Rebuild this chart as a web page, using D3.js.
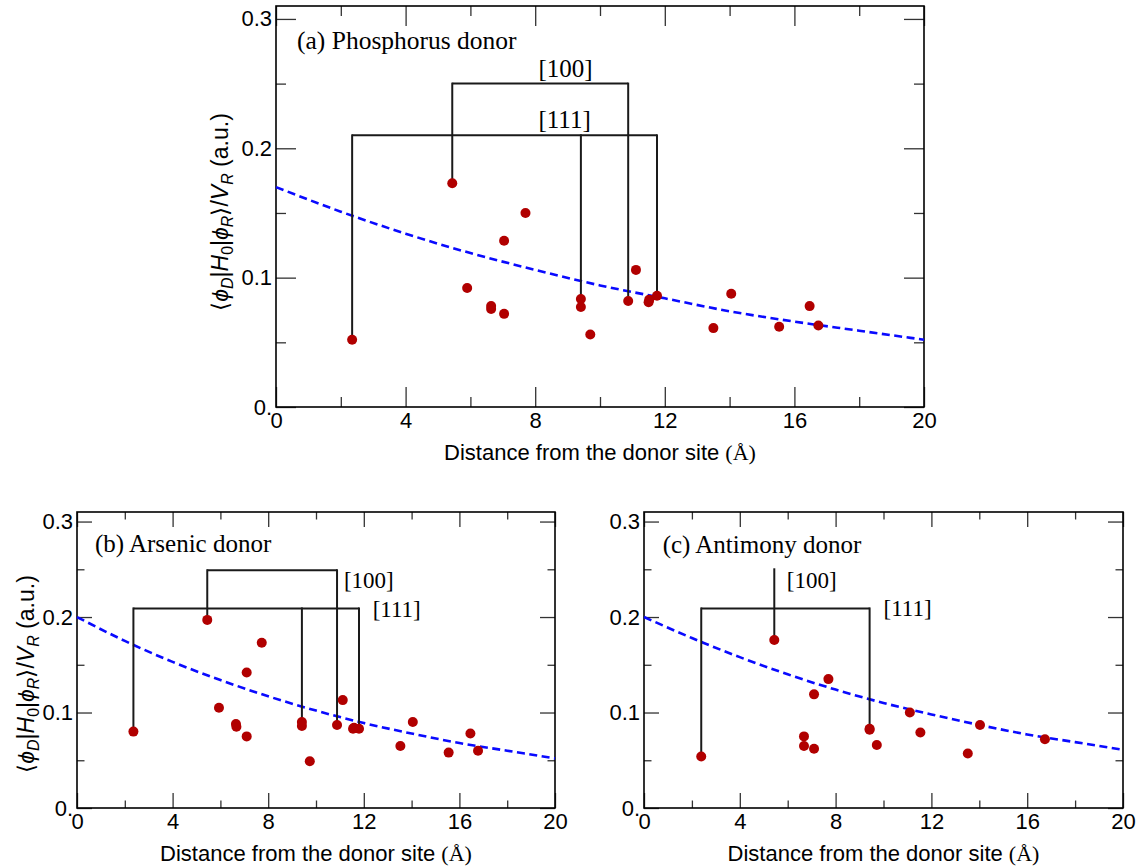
<!DOCTYPE html>
<html>
<head>
<meta charset="utf-8">
<script src="https://cdn.jsdelivr.net/npm/d3@7"></script>
<style>
  body { margin: 0; background: #fff; }
  svg { display: block; }
</style>
</head>
<body>
<div id="chart"></div>
<script>
// distances (Å) and couplings
const aDist = [2.35, 5.44, 5.90, 6.64, 6.64, 7.04, 7.04, 7.70, 9.41, 9.41, 9.70, 10.87, 11.11, 11.50, 11.52, 11.76, 13.50, 14.05, 15.53, 16.47, 16.74];
const aCoup = [0.052, 0.173, 0.092, 0.078, 0.0757, 0.1285, 0.072, 0.150, 0.0835, 0.0773, 0.056, 0.082, 0.106, 0.081, 0.083, 0.086, 0.061, 0.0876, 0.062, 0.078, 0.063];

const bDist = [2.36, 5.45, 5.94, 6.65, 6.67, 7.10, 7.10, 7.73, 9.41, 9.41, 9.74, 10.88, 11.12, 11.55, 11.59, 11.80, 13.53, 14.05, 15.55, 16.46, 16.78];
const bCoup = [0.080, 0.197, 0.105, 0.088, 0.085, 0.142, 0.075, 0.173, 0.090, 0.086, 0.049, 0.087, 0.113, 0.083, 0.084, 0.083, 0.065, 0.090, 0.058, 0.078, 0.060];

const cDist = [2.39, 5.44, 6.68, 6.68, 7.10, 7.10, 7.70, 9.42, 9.42, 9.72, 11.10, 11.54, 13.52, 14.03, 16.74];
const cCoup = [0.054, 0.176, 0.075, 0.065, 0.119, 0.062, 0.135, 0.083, 0.082, 0.066, 0.100, 0.079, 0.057, 0.087, 0.072];

// dashed fit curves, read at every 2 Å
const fitX = [0, 2, 4, 6, 8, 10, 12, 14, 16, 18, 20];
const aFit = [0.170, 0.151, 0.134, 0.119, 0.106, 0.094, 0.084, 0.074, 0.066, 0.059, 0.052];
const bFit = [0.200, 0.175, 0.153, 0.134, 0.117, 0.102, 0.089, 0.078, 0.068, 0.060, 0.052];
const cFit = [0.200, 0.178, 0.158, 0.140, 0.124, 0.110, 0.098, 0.087, 0.077, 0.069, 0.061];

// brackets: level of the bar, then [distance, coupling] of the points it joins
const a100 = { level: 0.25, ends: [[5.44, 0.173], [10.87, 0.082]] };
const a111 = { level: 0.21, ends: [[2.35, 0.052], [9.41, 0.0773], [11.76, 0.086]] };
const b100 = { level: 0.249, ends: [[5.45, 0.197], [10.88, 0.087]] };
const b111 = { level: 0.209, ends: [[2.36, 0.080], [9.41, 0.086], [11.80, 0.083]] };
const c100 = { level: 0.25, ends: [[5.44, 0.176]] };
const c111 = { level: 0.209, ends: [[2.39, 0.054], [9.42, 0.082]] };

const xMajor = [0, 4, 8, 12, 16, 20];
const xMinor = [2, 6, 10, 14, 18];
const yMajor = [0, 0.1, 0.2, 0.3];
const yMinor = [0.05, 0.15, 0.25];

const panels = [
  { title: "(a) Phosphorus donor", dist: aDist, coup: aCoup, fit: aFit,
    brackets: [[a100, "[100]", 8.1, 0.255], [a111, "[111]", 8.1, 0.2155]],
    box: [276, 924, 6, 407], major: 20, minor: 10, titleSize: 25.5, tagSize: 25,
    titlePos: [0.65, 0.277], yLabel: [228, 212] },
  { title: "(b) Arsenic donor", dist: bDist, coup: bCoup, fit: bFit,
    brackets: [[b100, "[100]", 11.17, 0.230], [b111, "[111]", 12.37, 0.200]],
    box: [77, 555, 512, 808], major: 15, minor: 7.5, titleSize: 25, tagSize: 23,
    titlePos: [0.75, 0.268], yLabel: [34, 674] },
  { title: "(c) Antimony donor", dist: cDist, coup: cCoup, fit: cFit,
    brackets: [[c100, "[100]", 5.96, 0.230], [c111, "[111]", 10.0, 0.201]],
    box: [644, 1123, 512, 808], major: 15, minor: 7.5, titleSize: 25, tagSize: 23,
    titlePos: [0.78, 0.267], yLabel: null }
];

const svg = d3.select("#chart").append("svg")
  .attr("width", 1148)
  .attr("height", 867);

const sans = "'Liberation Sans', Arial, Helvetica, sans-serif";
const serif = "'Liberation Serif', 'Times New Roman', serif";

panels.forEach(p => {
  const [x0, x1, y0, y1] = p.box;
  const x = d3.scaleLinear().domain([0, 20]).range([x0, x1]);
  const y = d3.scaleLinear().domain([0, 0.31]).range([y1, y0]);
  const g = svg.append("g");

  // ticks on all four sides, pointing inward
  const addAxis = (axis, tr, labels) => {
    const ax = g.append("g").attr("transform", tr).call(axis);
    ax.select(".domain").remove();
    ax.selectAll(".tick line").attr("stroke", "#333").attr("stroke-width", 1.3);
    ax.selectAll("text").attr("font-family", sans).attr("font-size", 22).attr("fill", "#000");
    if (!labels) ax.selectAll("text").remove();
  };
  const yFmt = d => d === 0 ? "0." : d3.format(".1f")(d);

  addAxis(d3.axisBottom(x).tickValues(xMajor).tickSize(-p.major).tickPadding(5).tickFormat(d3.format("d")), `translate(0,${y1})`, true);
  addAxis(d3.axisBottom(x).tickValues(xMinor).tickSize(-p.minor), `translate(0,${y1})`, false);
  addAxis(d3.axisTop(x).tickValues(xMajor).tickSize(-p.major), `translate(0,${y0})`, false);
  addAxis(d3.axisTop(x).tickValues(xMinor).tickSize(-p.minor), `translate(0,${y0})`, false);
  addAxis(d3.axisLeft(y).tickValues(yMajor).tickSize(-p.major).tickPadding(4).tickFormat(yFmt), `translate(${x0},0)`, true);
  addAxis(d3.axisLeft(y).tickValues(yMinor).tickSize(-p.minor), `translate(${x0},0)`, false);
  addAxis(d3.axisRight(y).tickValues(yMajor).tickSize(-p.major), `translate(${x1},0)`, false);
  addAxis(d3.axisRight(y).tickValues(yMinor).tickSize(-p.minor), `translate(${x1},0)`, false);

  g.append("rect")
    .attr("x", x0).attr("y", y0)
    .attr("width", x1 - x0).attr("height", y1 - y0)
    .attr("fill", "none").attr("stroke", "#000").attr("stroke-width", 1.6);

  // fit curve
  const line = d3.line().x((d, i) => x(fitX[i])).y(d => y(d)).curve(d3.curveMonotoneX);
  g.append("path")
    .datum(p.fit)
    .attr("d", line)
    .attr("fill", "none")
    .attr("stroke", "#0a0aff")
    .attr("stroke-width", 2.6)
    .attr("stroke-dasharray", "8,4.5");

  // brackets
  p.brackets.forEach(([br, tag, tx, ty]) => {
    const xs = br.ends.map(e => e[0]);
    g.append("line")
      .attr("x1", x(d3.min(xs))).attr("x2", x(d3.max(xs)))
      .attr("y1", y(br.level)).attr("y2", y(br.level))
      .attr("stroke", "#1a1a1a").attr("stroke-width", 2);
    g.selectAll(null).data(br.ends).enter().append("line")
      .attr("x1", d => x(d[0])).attr("x2", d => x(d[0]))
      .attr("y1", y(br.level) - 1).attr("y2", d => y(d[1]))
      .attr("stroke", "#1a1a1a").attr("stroke-width", 2);
    g.append("text")
      .attr("x", x(tx)).attr("y", y(ty))
      .attr("font-family", serif).attr("font-size", p.tagSize)
      .text(tag);
  });

  // points
  g.selectAll("circle").data(p.dist).enter().append("circle")
    .attr("cx", d => x(d))
    .attr("cy", (d, i) => y(p.coup[i]))
    .attr("r", 5)
    .attr("fill", "#b10000");

  g.append("text")
    .attr("x", x(p.titlePos[0])).attr("y", y(p.titlePos[1]))
    .attr("font-family", serif).attr("font-size", p.titleSize)
    .text(p.title);

  // x label
  const xl = g.append("text")
    .attr("x", (x0 + x1) / 2).attr("y", y1 + 53)
    .attr("text-anchor", "middle")
    .attr("font-family", sans).attr("font-size", 22);
  xl.append("tspan").text("Distance from the donor site ");
  xl.append("tspan").attr("font-family", serif).text("(Å)");

  // y label
  if (p.yLabel) {
    const yl = g.append("text")
      .attr("transform", `translate(${p.yLabel[0]},${p.yLabel[1]}) rotate(-90)`)
      .attr("text-anchor", "middle")
      .attr("font-family", sans).attr("font-size", 23);
    const parts = [
      ["⟨", ""], ["ϕ", "i"], ["D", "si"], ["|", ""], ["H", "i"], ["0", "s"], ["|", ""],
      ["ϕ", "i"], ["R", "si"], ["⟩/", ""], ["V", "i"], ["R", "si"], [" (a.u.)", ""]
    ];
    let low = false;
    parts.forEach(([t, f]) => {
      const sub = f.includes("s");
      const ts = yl.append("tspan").text(t);
      if (f.includes("i")) ts.attr("font-style", "italic");
      if (sub) ts.attr("font-size", 16);
      if (sub && !low) { ts.attr("dy", 5); low = true; }
      else if (!sub && low) { ts.attr("dy", -5); low = false; }
    });
  }
});
</script>
</body>
</html>
